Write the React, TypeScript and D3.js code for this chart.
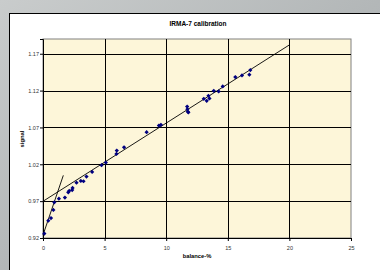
import React, { useEffect, useRef } from 'react';
import * as d3 from 'd3';

// measured points (balance-%, signal)
const balance = [0.11, 0.43, 0.65, 0.84, 0.92, 1.29, 1.78, 2.05, 2.13, 2.37, 2.4, 2.72, 3.07, 3.29, 3.53, 3.99, 4.75, 5.1,
  5.96, 5.99, 6.58, 8.41, 9.41, 9.57, 11.7, 11.72, 11.76, 11.8, 13.05, 13.29, 13.43, 13.51, 13.86, 14.26, 14.59,
  15.61, 16.15, 16.75, 16.83];
const signal = [0.926, 0.9435, 0.947, 0.958, 0.9685, 0.9734, 0.9748, 0.982, 0.984, 0.985, 0.988, 0.995, 0.9975, 0.997,
  1.0033, 1.0097, 1.0188, 1.0223, 1.034, 1.0386, 1.043, 1.0636, 1.0726, 1.0735, 1.0984, 1.0948, 1.0913, 1.0904,
  1.1089, 1.1061, 1.113, 1.1093, 1.1197, 1.1188, 1.1256, 1.1383, 1.1405, 1.1415, 1.1478];

// trend lines
const mainFitX = [0, 20];
const mainFitY = [0.9698, 1.182];
const lowFitX = [0, 1.65];
const lowFitY = [0.924, 1.005];

const xTicks = [0, 5, 10, 15, 20, 25];
const yTicks = [0.92, 0.97, 1.02, 1.07, 1.12, 1.17];

const W = 380, H = 270;
const font = '"Liberation Sans", Arial, sans-serif';

export default function App() {
  const ref = useRef<SVGSVGElement>(null);

  useEffect(() => {
    const svg = d3.select(ref.current);
    svg.selectAll('*').remove();

    // backdrop
    const defs = svg.append('defs');
    const grad = defs.append('linearGradient').attr('id', 'stone')
      .attr('x1', 0).attr('y1', 0).attr('x2', 1).attr('y2', 1);
    grad.append('stop').attr('offset', '0%').attr('stop-color', '#c9cccc');
    grad.append('stop').attr('offset', '50%').attr('stop-color', '#b3b7b8');
    grad.append('stop').attr('offset', '100%').attr('stop-color', '#a5a9ab');
    svg.append('rect').attr('width', W).attr('height', H).attr('fill', 'url(#stone)');

    // chart box
    svg.append('rect').attr('x', 9.5).attr('y', 13.5).attr('width', 400).attr('height', 300)
      .attr('fill', '#fff').attr('stroke', '#000').attr('stroke-width', 1);

    const x = d3.scaleLinear().domain([0, 25]).range([43, 351]);
    const y = d3.scaleLinear().domain([0.92, 1.19]).range([238, 39]);

    // plot area
    svg.append('rect').attr('x', x(0)).attr('y', y(1.19))
      .attr('width', x(25) - x(0)).attr('height', y(0.92) - y(1.19))
      .attr('fill', '#fdf6d9').attr('stroke', '#808080').attr('stroke-width', 1);

    // grid
    svg.append('g').selectAll('line').data(yTicks.slice(1)).enter().append('line')
      .attr('x1', x(0)).attr('x2', x(25))
      .attr('y1', d => Math.round(y(d)) + 0.5).attr('y2', d => Math.round(y(d)) + 0.5)
      .attr('stroke', '#000').attr('stroke-width', 1);
    svg.append('g').selectAll('line').data(xTicks.slice(1, -1)).enter().append('line')
      .attr('y1', y(1.19)).attr('y2', y(0.92))
      .attr('x1', d => Math.round(x(d)) + 0.5).attr('x2', d => Math.round(x(d)) + 0.5)
      .attr('stroke', '#000').attr('stroke-width', 1);

    // axes
    const gx = svg.append('g').attr('transform', `translate(0,${y(0.92)})`)
      .call(d3.axisBottom(x).tickValues(xTicks).tickSize(3).tickFormat(d3.format('d')));
    const gy = svg.append('g').attr('transform', `translate(${x(0)},0)`)
      .call(d3.axisLeft(y).tickValues(yTicks).tickSize(3).tickFormat(d3.format('.2f')));
    [gx, gy].forEach(g => {
      g.select('.domain').attr('stroke', '#000');
      g.selectAll('.tick line').attr('stroke', '#000');
      g.selectAll('.tick text').attr('font-family', font).attr('font-size', 5.5).attr('fill', '#333');
    });
    gx.selectAll('.tick text').attr('dy', '1.1em');
    gy.selectAll('.tick text').attr('x', -4);

    // trend lines
    const line = d3.line<[number, number]>().x(d => x(d[0])).y(d => y(d[1]));
    svg.append('path').attr('d', line(mainFitX.map((v, i) => [v, mainFitY[i]]) as [number, number][]))
      .attr('fill', 'none').attr('stroke', '#000').attr('stroke-width', 0.9);
    svg.append('path').attr('d', line(lowFitX.map((v, i) => [v, lowFitY[i]]) as [number, number][]))
      .attr('fill', 'none').attr('stroke', '#000').attr('stroke-width', 0.9);

    // points
    const sym = d3.symbol().type(d3.symbolSquare).size(9);
    svg.append('g').selectAll('path').data(balance).enter().append('path')
      .attr('d', sym)
      .attr('transform', (d, i) => `translate(${x(d)},${y(signal[i])}) rotate(45)`)
      .attr('fill', '#000080');

    // titles
    svg.append('text').attr('x', 198).attr('y', 26).attr('text-anchor', 'middle')
      .attr('font-family', font).attr('font-size', 6.5).attr('font-weight', 'bold')
      .text('IRMA-7 calibration');
    svg.append('text').attr('x', 197).attr('y', 258).attr('text-anchor', 'middle')
      .attr('font-family', font).attr('font-size', 5.8).attr('font-weight', 'bold')
      .text('balance-%');
    svg.append('text').attr('transform', 'translate(24,139) rotate(-90)').attr('text-anchor', 'middle')
      .attr('font-family', font).attr('font-size', 5.8).attr('font-weight', 'bold')
      .text('signal');
  }, []);

  return (
    <svg ref={ref} width={W} height={H}
      style={{ position: 'absolute', left: 0, top: 0, display: 'block' }} />
  );
}
